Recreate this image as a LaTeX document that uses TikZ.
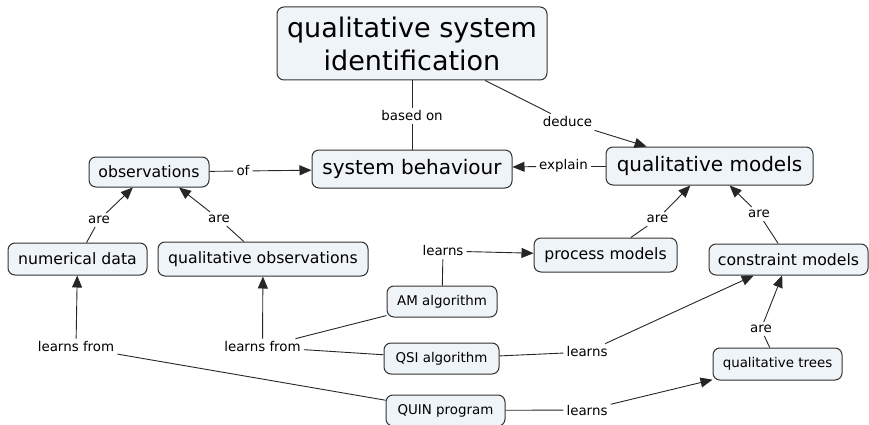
\documentclass[tikz,border=0pt]{standalone}
\usepackage{fontspec}
\setmainfont{DejaVu Sans}
\usetikzlibrary{arrows.meta,calc}
\definecolor{boxfill}{RGB}{238,244,247}
\definecolor{boxline}{RGB}{50,50,50}
\begin{document}
\begin{tikzpicture}[x=1pt,y=-1pt,
 box/.style={draw=boxline, fill=boxfill, rounded corners=7pt, line width=1pt, inner sep=0pt, align=center},
 big/.style={font=\fontsize{20}{24}\selectfont},
 mid/.style={font=\fontsize{15.7}{19}\selectfont},
 sml/.style={font=\fontsize{13.4}{16}\selectfont},
 lab/.style={font=\fontsize{13.4}{16}\selectfont, inner sep=3pt},
 link/.style={draw=black!85, line width=0.9pt},
 arr/.style={link, -{Triangle[length=12pt,width=10pt]}},
]
\useasboundingbox (0,0) rectangle (869,425);
% concept boxes
\node[box, minimum width=270pt, minimum height=73pt, font=\fontsize{27}{33}\selectfont] (title) at (412,43.5) {qualitative system\\identification};
\node[box,big,minimum width=200pt,minimum height=38pt] (sysb) at (412,169) {system behaviour};
\node[box,big,minimum width=207pt,minimum height=38pt] (qm) at (709.5,166) {qualitative models};
\node[box,mid,minimum width=120pt,minimum height=30pt] (obs) at (149,172) {observations};
\node[box,mid,minimum width=139pt,minimum height=32pt] (num) at (77.5,259) {numerical data};
\node[box,mid,minimum width=210pt,minimum height=34pt] (qobs) at (263,259) {qualitative observations};
\node[box,mid,minimum width=143pt,minimum height=34pt] (pm) at (605.5,255) {process models};
\node[box,mid,minimum width=159pt,minimum height=31pt] (cm) at (788.5,259.5) {constraint models};
\node[box,sml,minimum width=129pt,minimum height=32pt] (qt) at (777.5,364) {qualitative trees};
\node[box,sml,minimum width=110pt,minimum height=31pt] (am) at (442,301.5) {AM algorithm};
\node[box,sml,minimum width=115pt,minimum height=31pt] (qsi) at (441.5,358.5) {QSI algorithm};
\node[box,sml,minimum width=119pt,minimum height=31pt] (quin) at (445.5,410.5) {QUIN program};
% link labels
\node[lab] (lbased) at (412,116) {based on};
\node[lab] (ldeduce) at (567.5,122) {deduce};
\node[lab] (lof) at (243,171) {of};
\node[lab] (lexplain) at (563.5,166) {explain};
\node[lab] (lare1) at (99,220) {are};
\node[lab] (lare2) at (219,219) {are};
\node[lab] (lare3) at (657.5,219) {are};
\node[lab] (lare4) at (759,214) {are};
\node[lab] (lare5) at (761,329) {are};
\node[lab] (llearnsam) at (443,251) {learns};
\node[lab] (llf1) at (76,347) {learns from};
\node[lab] (llf2) at (262.5,347) {learns from};
\node[lab] (llqsi) at (587,352) {learns};
\node[lab] (llquin) at (587,410) {learns};
% connectors
\draw[link] (title) -- (lbased);
\draw[link] (lbased) -- (sysb);
\draw[link] (title) -- (ldeduce);
\draw[arr] (ldeduce) -- (qm);
\draw[link] (obs) -- (lof);
\draw[arr] (lof) -- (sysb);
\draw[link] (qm) -- (lexplain);
\draw[arr] (lexplain) -- (sysb);
\draw[link] (num) -- (lare1);
\draw[arr] (lare1) -- (obs);
\draw[link] (qobs) -- (lare2);
\draw[arr] (lare2) -- ($(obs.south)+(30,0)$);
\draw[link] (pm) -- (lare3);
\draw[arr] (lare3) -- (qm);
\draw[link] (cm) -- (lare4);
\draw[arr] (lare4) -- (qm);
\draw[link] (qt) -- (lare5);
\draw[arr] (lare5) -- (cm);
\draw[link] (am) -- (llearnsam);
\draw[arr] (llearnsam) -- (pm);
\draw[link] (am) -- (llf2);
\draw[link] (qsi) -- (llf2);
\draw[arr] (llf2) -- (qobs);
\draw[link] (quin) -- (llf1);
\draw[arr] (llf1) -- (num);
\draw[link] (qsi) -- (llqsi);
\draw[arr] (llqsi) -- (cm);
\draw[link] (quin) -- (llquin);
\draw[arr] (llquin) -- (qt);
\end{tikzpicture}
\end{document}
